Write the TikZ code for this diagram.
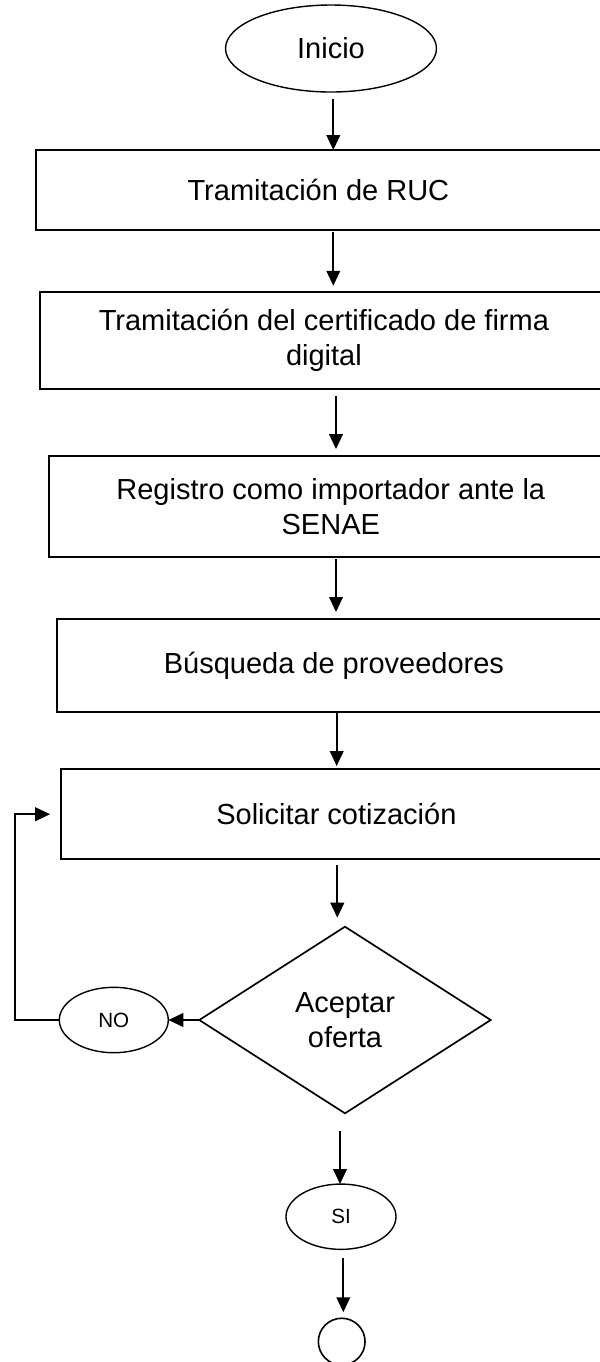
\documentclass[tikz,border=0pt]{standalone}
\usepackage{fontspec}
\setmainfont{Liberation Sans}
\usetikzlibrary{shapes.geometric,arrows.meta}
\begin{document}
\begin{tikzpicture}[x=0.5pt,y=-0.5pt,
  every node/.style={inner sep=0pt,outer sep=0pt},
  bigtxt/.style={font=\fontsize{14.5}{17.5}\selectfont,align=center},
  smalltxt/.style={font=\fontsize{10.3}{12}\selectfont},
  stepbox/.style={draw,line width=1.1pt,rectangle,bigtxt},
  oval/.style={draw,line width=0.7pt,ellipse},
  decision/.style={draw,line width=0.85pt,diamond,bigtxt},
  conn/.style={line width=1pt,-{Triangle[length=7.5pt,width=6.8pt]}}
]
\useasboundingbox (0,0) rectangle (600,1362);
% nodes
\node[oval,bigtxt,minimum width=105.5pt,minimum height=43.5pt] (ini) at (331,48.5) {Inicio};
\node[stepbox,minimum width=282.65pt,minimum height=40pt] (b1) at (318.4,190) {Tramitación de RUC};
\node[stepbox,minimum width=284.1pt,minimum height=48.65pt] (b2) at (323.9,340.4) {Tramitación del certificado de firma\\digital};
\node[stepbox,minimum width=282.2pt,minimum height=50.5pt] (b3) at (330.8,506.2) {Registro como importador ante la\\SENAE};
\node[stepbox,minimum width=277.15pt,minimum height=46.35pt] (b4) at (333.9,665.4) {Búsqueda de proveedores};
\node[stepbox,minimum width=275.65pt,minimum height=45.15pt] (b5) at (336.4,814.2) {Solicitar cotización};
\node[decision,minimum width=145.7pt,minimum height=93.3pt] (dec) at (345,1020) {Aceptar\\oferta};
\node[oval,smalltxt,minimum width=54.5pt,minimum height=32.7pt] (no) at (113.8,1020) {NO};
\node[oval,smalltxt,minimum width=55pt,minimum height=32.65pt] (si) at (341,1216.7) {SI};
\node[draw,line width=0.8pt,circle,minimum size=23.35pt] (fin) at (341.7,1341.6) {};
% arrow columns
\coordinate (c1) at (333.3,0);
\coordinate (c2) at (333.3,0);
\coordinate (c3) at (336,0);
\coordinate (c4) at (336,0);
\coordinate (c5) at (336.7,0);
\coordinate (c6) at (337.3,0);
\coordinate (c7) at (340,0);
\coordinate (c8) at (343.3,0);
\coordinate (fb) at (15,0);
% connectors
\draw[conn,shorten <=3.5pt] (ini.south -| c1) -- (b1.north -| c1);
\draw[conn,shorten <=1pt,shorten >=3pt] (b1.south -| c2) -- (b2.north -| c2);
\draw[conn,shorten <=3.3pt,shorten >=3.3pt] (b2.south -| c3) -- (b3.north -| c3);
\draw[conn,shorten <=1.2pt,shorten >=3.5pt] (b3.south -| c4) -- (b4.north -| c4);
\draw[conn,shorten >=1.5pt] (b4.south -| c5) -- (b5.north -| c5);
\draw[conn,shorten <=3pt,shorten >=4.5pt] (b5.south -| c6) -- (dec.north -| c6);
\draw[conn,shorten <=9pt] (dec.south -| c7) -- (si.north -| c7);
\draw[conn,shorten <=4.5pt,shorten >=3pt] (si.south -| c8) -- (fin.north -| c8);
\draw[conn] (dec.west) -- (no.east);
\draw[conn,shorten >=5.3pt] (no.west) -| (fb |- b5.west) -- (b5.west);
\end{tikzpicture}
\end{document}
